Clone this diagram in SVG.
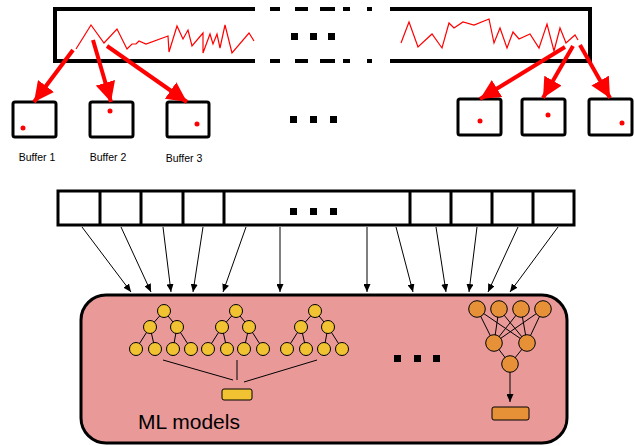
<svg xmlns="http://www.w3.org/2000/svg" width="634" height="446" viewBox="0 0 634 446">
<style>
.frame{fill:none;stroke:#000;stroke-width:4}
.sig{fill:none;stroke:#ff0000;stroke-width:1.2;stroke-linejoin:miter}
.rarr{stroke:#ff0000;stroke-width:4;fill:none}
.buf{fill:#fff;stroke:#000;stroke-width:3}
.dot{fill:#ff0000}
.lbl{font-family:"Liberation Sans",Arial,sans-serif;font-size:10.5px;fill:#000;text-anchor:middle}
.cell{fill:#fff;stroke:#000;stroke-width:3}
.arr{stroke:#000;stroke-width:1;fill:none}
.sq{fill:#000}
.edge{stroke:#000;stroke-width:1;fill:none}
.yn{fill:#f1c232;stroke:#000;stroke-width:1}
.on{fill:#e69138;stroke:#000;stroke-width:1}
</style>
<defs>
<marker id="rh" markerWidth="5" markerHeight="5" refX="5" refY="2.5" orient="auto" markerUnits="strokeWidth">
<path d="M0,0 L5,2.5 L0,5 Z" fill="#ff0000"/>
</marker>
<marker id="kh" markerWidth="8" markerHeight="7" refX="8" refY="3.5" orient="auto" markerUnits="userSpaceOnUse">
<path d="M0,0 L8,3.5 L0,7 Z" fill="#000"/>
</marker>
</defs>

<g id="stream">
<path class="frame" d="M255,9 H55 V61 H255"/>
<path class="frame" d="M390,9 H590 V61 H390"/>
<path class="frame" d="M270,9 H280 M295,9 H308 M320,9 H335 M343,9 H350 M367,9 H372 M270,61 H280 M295,61 H308 M320,61 H335 M343,61 H350 M367,61 H372"/>
<rect class="sq" x="291" y="33" width="7" height="7"/>
<rect class="sq" x="310" y="33" width="7" height="7"/>
<rect class="sq" x="328" y="33" width="7" height="7"/>
<polyline class="sig" points="76,49 91,25 104,43 117,29 127,49 132,44 136,44 139,41 146,44 168,36 169,52 177,26 183,39 188,30 192,46 203,33 203,53 210,34 213,44 217,34 220,48 225,25 232,53 249,33 254,41"/>
<polyline class="sig" points="401,43 409,22 418,47 432,34 442,48 449,23 454,28 463,22 474,25 489,19 494,43 500,28 507,48 513,32 519,39 530,34 539,48 547,24 554,51 560,28 566,43 575,35 578,40"/>
</g>

<g id="buffer1">
<rect class="buf" x="13" y="102" width="43" height="35" rx="2"/>
<circle class="dot" cx="23" cy="128" r="2.5"/>
<text class="lbl" x="37" y="161">Buffer 1</text>
</g>
<g id="buffer2">
<rect class="buf" x="90" y="102" width="43" height="35" rx="2"/>
<circle class="dot" cx="110" cy="111" r="2.5"/>
<text class="lbl" x="108" y="161">Buffer 2</text>
</g>
<g id="buffer3">
<rect class="buf" x="167" y="102" width="42" height="35" rx="2"/>
<circle class="dot" cx="197" cy="124" r="2.5"/>
<text class="lbl" x="184" y="162">Buffer 3</text>
</g>
<g id="buffer-dots">
<rect class="sq" x="290" y="116" width="7" height="7"/>
<rect class="sq" x="310" y="116" width="7" height="7"/>
<rect class="sq" x="330" y="116" width="7" height="7"/>
</g>
<g id="buffer4">
<rect class="buf" x="458" y="99" width="43" height="36" rx="2"/>
<circle class="dot" cx="480" cy="121" r="2.5"/>
</g>
<g id="buffer5">
<rect class="buf" x="522" y="99" width="43" height="36" rx="2"/>
<circle class="dot" cx="548" cy="115" r="2.5"/>
</g>
<g id="buffer6">
<rect class="buf" x="589" y="99" width="43" height="36" rx="2"/>
<circle class="dot" cx="622" cy="123" r="2.5"/>
</g>

<g id="feature-row">
<rect class="cell" x="58" y="191" width="516" height="34"/>
<path class="cell" d="M100,191 V225 M141,191 V225 M183,191 V225 M224,191 V225 M410,191 V225 M451,191 V225 M492,191 V225 M533,191 V225"/>
<rect class="sq" x="290" y="208" width="7" height="7"/>
<rect class="sq" x="310" y="208" width="7" height="7"/>
<rect class="sq" x="330" y="208" width="7" height="7"/>
</g>

<g id="ml-models">
<rect x="81" y="295" width="486" height="148" rx="25" fill="#ea9999" stroke="#000" stroke-width="3"/>
<text x="138" y="429" font-family="Liberation Sans, Arial, sans-serif" font-size="21" fill="#000">ML models</text>
<g id="tree1">
<path class="edge" d="M164,311 L150,327 M164,311 L177,327 M150,327 L136,349 M150,327 L155,349 M177,327 L173,349 M177,327 L191,349"/>
<circle class="yn" cx="164" cy="311" r="6.5"/><circle class="yn" cx="150" cy="327" r="6.5"/><circle class="yn" cx="177" cy="327" r="6.5"/>
<circle class="yn" cx="136" cy="349" r="6.5"/><circle class="yn" cx="155" cy="349" r="6.5"/><circle class="yn" cx="173" cy="349" r="6.5"/><circle class="yn" cx="191" cy="349" r="6.5"/>
</g>
<g id="tree2">
<path class="edge" d="M236,311 L222,327 M236,311 L249,327 M222,327 L208,349 M222,327 L227,349 M249,327 L244,349 M249,327 L263,349"/>
<circle class="yn" cx="236" cy="311" r="6.5"/><circle class="yn" cx="222" cy="327" r="6.5"/><circle class="yn" cx="249" cy="327" r="6.5"/>
<circle class="yn" cx="208" cy="349" r="6.5"/><circle class="yn" cx="227" cy="349" r="6.5"/><circle class="yn" cx="244" cy="349" r="6.5"/><circle class="yn" cx="263" cy="349" r="6.5"/>
</g>
<g id="tree3">
<path class="edge" d="M315,311 L301,327 M315,311 L328,327 M301,327 L287,349 M301,327 L306,349 M328,327 L324,349 M328,327 L342,349"/>
<circle class="yn" cx="315" cy="311" r="6.5"/><circle class="yn" cx="301" cy="327" r="6.5"/><circle class="yn" cx="328" cy="327" r="6.5"/>
<circle class="yn" cx="287" cy="349" r="6.5"/><circle class="yn" cx="306" cy="349" r="6.5"/><circle class="yn" cx="324" cy="349" r="6.5"/><circle class="yn" cx="342" cy="349" r="6.5"/>
</g>
<path class="edge" d="M163,360 L233,380 M237,360 L237,380 M317,360 L244,382"/>
<rect id="ensemble-out" x="222" y="389" width="30" height="11" rx="2" fill="#f1c232" stroke="#000" stroke-width="1"/>
<rect class="sq" x="394" y="355" width="7" height="7"/>
<rect class="sq" x="414" y="355" width="7" height="7"/>
<rect class="sq" x="433" y="355" width="7" height="7"/>
<g id="nnet">
<path class="edge" d="M477,309 L494,343 M477,309 L527,343 M499,309 L494,343 M499,309 L527,343 M521,309 L494,343 M521,309 L527,343 M543,309 L494,343 M543,309 L527,343 M494,343 L510,364 M527,343 L510,364"/>
<circle class="on" cx="477" cy="309" r="8.3"/><circle class="on" cx="499" cy="309" r="8.3"/><circle class="on" cx="521" cy="309" r="8.3"/><circle class="on" cx="543" cy="309" r="8.3"/>
<circle class="on" cx="494" cy="343" r="8.3"/><circle class="on" cx="527" cy="343" r="8.3"/>
<circle class="on" cx="510" cy="364" r="8.3"/>
<line class="arr" x1="510" y1="372" x2="510" y2="402" marker-end="url(#kh)"/>
<rect x="492" y="407" width="37" height="13" rx="2" fill="#e69138" stroke="#000" stroke-width="1"/>
</g>
</g>

<g id="connectors">
<line class="rarr" x1="73" y1="50" x2="34" y2="102" marker-end="url(#rh)"/>
<line class="rarr" x1="93" y1="40" x2="111" y2="102" marker-end="url(#rh)"/>
<line class="rarr" x1="107" y1="46" x2="187" y2="102" marker-end="url(#rh)"/>
<line class="rarr" x1="565" y1="47" x2="480" y2="99" marker-end="url(#rh)"/>
<line class="rarr" x1="573" y1="46" x2="543" y2="98" marker-end="url(#rh)"/>
<line class="rarr" x1="580" y1="45" x2="610" y2="98" marker-end="url(#rh)"/>
<line class="arr" x1="82" y1="227" x2="131" y2="292" marker-end="url(#kh)"/>
<line class="arr" x1="121" y1="227" x2="151" y2="292" marker-end="url(#kh)"/>
<line class="arr" x1="163" y1="227" x2="171" y2="292" marker-end="url(#kh)"/>
<line class="arr" x1="203" y1="227" x2="193" y2="292" marker-end="url(#kh)"/>
<line class="arr" x1="246" y1="227" x2="223" y2="292" marker-end="url(#kh)"/>
<line class="arr" x1="280" y1="227" x2="280" y2="292" marker-end="url(#kh)"/>
<line class="arr" x1="367" y1="227" x2="367" y2="292" marker-end="url(#kh)"/>
<line class="arr" x1="396" y1="227" x2="413" y2="292" marker-end="url(#kh)"/>
<line class="arr" x1="436" y1="227" x2="446" y2="292" marker-end="url(#kh)"/>
<line class="arr" x1="477" y1="227" x2="469" y2="292" marker-end="url(#kh)"/>
<line class="arr" x1="518" y1="227" x2="488" y2="292" marker-end="url(#kh)"/>
<line class="arr" x1="558" y1="227" x2="510" y2="292" marker-end="url(#kh)"/>
</g>
</svg>
